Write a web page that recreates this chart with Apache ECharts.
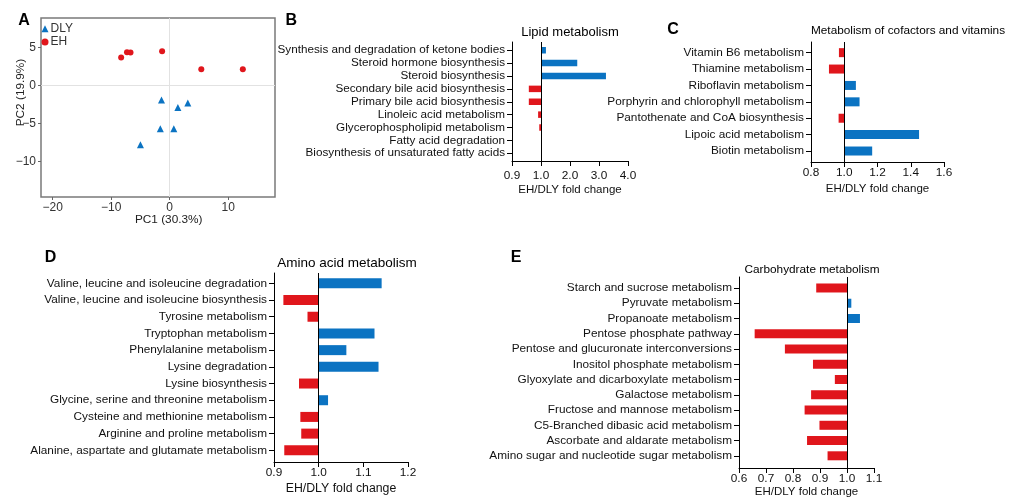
<!DOCTYPE html>
<html><head><meta charset="utf-8">
<script src="https://cdn.jsdelivr.net/npm/echarts@6/dist/echarts.min.js"></script>
<style>html,body{margin:0;padding:0;background:#fff}#c{width:1016px;height:500px}</style>
</head><body><div id="c"></div>
<script>
// ---- Panel A: PCA scores ----
const dlyPC1 = [-1.4, 1.4, 3.1, -1.6, 0.7, -5.0];
const dlyPC2 = [-1.9, -2.9, -2.3, -5.7, -5.7, -7.8];
const ehPC1 = [-8.3, -7.3, -6.7, -1.3, 5.4, 12.5];
const ehPC2 = [3.7, 4.4, 4.35, 4.5, 2.15, 2.15];
const pcaXTicks = [-20, -10, 0, 10];
const pcaYTicks = [-10, -5, 0, 5];

// ---- Panel B: Lipid metabolism ----
const lipidCats = ['Synthesis and degradation of ketone bodies', 'Steroid hormone biosynthesis', 'Steroid biosynthesis',
  'Secondary bile acid biosynthesis', 'Primary bile acid biosynthesis', 'Linoleic acid metabolism',
  'Glycerophospholipid metabolism', 'Fatty acid degradation', 'Biosynthesis of unsaturated fatty acids'];
const lipidFC = [1.17, 2.25, 3.24, 0.958, 0.958, 0.99, 0.994, 1.03, 1.0];
const lipidTicks = ['0.9', '1.0', '2.0', '3.0', '4.0'];

// ---- Panel C: Metabolism of cofactors and vitamins ----
const cofCats = ['Vitamin B6 metabolism', 'Thiamine metabolism', 'Riboflavin metabolism',
  'Porphyrin and chlorophyll metabolism', 'Pantothenate and CoA biosynthesis', 'Lipoic acid metabolism', 'Biotin metabolism'];
const cofFC = [0.968, 0.908, 1.07, 1.092, 0.966, 1.45, 1.168];
const cofTicks = ['0.8', '1.0', '1.2', '1.4', '1.6'];

// ---- Panel D: Amino acid metabolism ----
const aminoCats = ['Valine, leucine and isoleucine degradation', 'Valine, leucine and isoleucine biosynthesis',
  'Tyrosine metabolism', 'Tryptophan metabolism', 'Phenylalanine metabolism', 'Lysine degradation',
  'Lysine biosynthesis', 'Glycine, serine and threonine metabolism', 'Cysteine and methionine metabolism',
  'Arginine and proline metabolism', 'Alanine, aspartate and glutamate metabolism'];
const aminoFC = [1.141, 0.921, 0.975, 1.125, 1.062, 1.134, 0.956, 1.021, 0.959, 0.961, 0.923];
const aminoTicks = ['0.9', '1.0', '1.1', '1.2'];

// ---- Panel E: Carbohydrate metabolism ----
const carbCats = ['Starch and sucrose metabolism', 'Pyruvate metabolism', 'Propanoate metabolism',
  'Pentose phosphate pathway', 'Pentose and glucuronate interconversions', 'Inositol phosphate metabolism',
  'Glyoxylate and dicarboxylate metabolism', 'Galactose metabolism', 'Fructose and mannose metabolism',
  'C5-Branched dibasic acid metabolism', 'Ascorbate and aldarate metabolism', 'Amino sugar and nucleotide sugar metabolism'];
const carbFC = [0.886, 1.016, 1.048, 0.658, 0.770, 0.874, 0.955, 0.867, 0.843, 0.898, 0.852, 0.928];
const carbTicks = ['0.6', '0.7', '0.8', '0.9', '1.0', '1.1'];

const RED = '#E0161C', BLUE = '#0B73C2';
const FONT = "'Liberation Sans', Arial, sans-serif";
const r6 = x => Math.round(x * 1e6) / 1e6;
// axis scales (the lipid panel uses a broken scale: 0.9-1.0 then 1-4)
const lipidPos = v => r6(v >= 1 ? v - 1 : (v - 1) * 10);
const linPos = s => v => r6((v - 1) * s);

const panels = [
  {cats: lipidCats, fc: lipidFC, ticks: lipidTicks, pos: lipidPos, title: 'Lipid metabolism', titleFont: 13, titleX: 570, titleY: 32,
   grid: {left: 512, top: 42, width: 116, height: 119}, ymin: -0.64, ymax: 8.6, barH: 6.5, catFont: 11.7, tickMargin: 9, nameGap: 23, nameFont: 11.5},
  {cats: cofCats, fc: cofFC, ticks: cofTicks, pos: linPos(5), title: 'Metabolism of cofactors and vitamins', titleFont: 11.8, titleX: 908, titleY: 31,
   grid: {left: 811, top: 42, width: 133, height: 120}, ymin: -0.65, ymax: 6.67, barH: 9, catFont: 11.8, tickMargin: 5, nameGap: 21, nameFont: 11.5},
  {cats: aminoCats, fc: aminoFC, ticks: aminoTicks, pos: linPos(10), title: 'Amino acid metabolism', titleFont: 13.5, titleX: 347, titleY: 263,
   grid: {left: 274, top: 273, width: 134, height: 189}, ymin: -0.62, ymax: 10.7, barH: 10, catFont: 11.8, tickMargin: 5, nameGap: 21, nameFont: 12.3},
  {cats: carbCats, fc: carbFC, ticks: carbTicks, pos: linPos(10), title: 'Carbohydrate metabolism', titleFont: 11.8, titleX: 812, titleY: 270,
   grid: {left: 739, top: 277, width: 135, height: 191}, ymin: -0.72, ymax: 11.8, barH: 9, catFont: 11.8, tickMargin: 5, nameGap: 18, nameFont: 11.5}
];

const grids = [{left: 41, top: 18, width: 234, height: 179, show: true, borderColor: '#7a7a7a', borderWidth: 1.5, backgroundColor: 'transparent'}];
const xAxes = [{
  type: 'value', gridIndex: 0, min: -22, max: 18, position: 'bottom',
  axisLine: {show: false, onZero: false}, splitLine: {show: false},
  axisTick: {show: true, customValues: pcaXTicks, length: 3, lineStyle: {color: '#666'}},
  axisLabel: {customValues: pcaXTicks, formatter: v => String(v).replace('-', '\u2212'), fontSize: 12, color: '#333', margin: 5, fontFamily: FONT}
}];
const yAxes = [{
  type: 'value', gridIndex: 0, min: -14.7, max: 8.9, position: 'left',
  axisLine: {show: false, onZero: false}, splitLine: {show: false},
  axisTick: {show: true, customValues: pcaYTicks, length: 3, lineStyle: {color: '#666'}},
  axisLabel: {customValues: pcaYTicks, formatter: v => String(v).replace('-', '\u2212'), fontSize: 12, color: '#333', margin: 5, fontFamily: FONT}
}];
const series = [
  {type: 'scatter', name: 'DLY', xAxisIndex: 0, yAxisIndex: 0, symbol: 'triangle', symbolSize: 7,
   itemStyle: {color: BLUE, opacity: 1}, data: dlyPC1.map((x, i) => [x, dlyPC2[i]]), z: 3},
  {type: 'scatter', name: 'EH', xAxisIndex: 0, yAxisIndex: 0, symbol: 'circle', symbolSize: 6,
   itemStyle: {color: RED, opacity: 1}, data: ehPC1.map((x, i) => [x, ehPC2[i]]), z: 3,
   markLine: {silent: true, symbol: ['none', 'none'], label: {show: false}, z: 1,
     lineStyle: {color: '#e2e2e2', width: 1, type: 'solid'}, emphasis: {disabled: true},
     data: [{xAxis: 0}, {yAxis: 0}]}}
];
const graphics = [
  {type: 'text', x: 168.7, y: 220, style: {text: 'PC1 (30.3%)', fontSize: 11.8, fontFamily: FONT, fill: '#222', align: 'center', verticalAlign: 'middle'}},
  {type: 'text', x: 20.5, y: 92.5, rotation: Math.PI / 2, style: {text: 'PC2 (19.9%)', fontSize: 11.8, fontFamily: FONT, fill: '#222', align: 'center', verticalAlign: 'middle'}}
];
const letters = [['A', 24, 21], ['B', 291.3, 21], ['C', 673, 30], ['D', 50.5, 257.7], ['E', 516.2, 257.3]];
letters.forEach(([t, x, y]) => graphics.push({type: 'text', x, y, style: {text: t, fontSize: 16, fontWeight: 'bold', fontFamily: FONT, fill: '#000', align: 'center', verticalAlign: 'middle'}}));

panels.forEach((p, k) => {
  const gi = k + 1;
  const tickPos = p.ticks.map(t => p.pos(parseFloat(t)));
  const idx = p.cats.map((c, i) => i);
  grids.push(Object.assign({}, p.grid));
  xAxes.push({
    type: 'value', gridIndex: gi, min: tickPos[0], max: tickPos[tickPos.length - 1], position: 'bottom',
    axisLine: {show: true, onZero: false, lineStyle: {color: '#000', width: 1}},
    splitLine: {show: false},
    axisTick: {show: true, customValues: tickPos, length: 5, lineStyle: {color: '#000'}},
    axisLabel: {customValues: tickPos, fontSize: 11.8, color: '#111', margin: p.tickMargin, fontFamily: FONT,
      formatter: v => { const j = tickPos.findIndex(t => Math.abs(t - v) < 1e-6); return j >= 0 ? p.ticks[j] : ''; }},
    name: 'EH/DLY fold change', nameLocation: 'middle', nameGap: p.nameGap,
    nameTextStyle: {fontSize: p.nameFont, color: '#111', fontFamily: FONT}
  });
  yAxes.push({
    type: 'value', gridIndex: gi, inverse: true, min: p.ymin, max: p.ymax, position: 'left',
    axisLine: {show: true, onZero: false, lineStyle: {color: '#000', width: 1}},
    splitLine: {show: false},
    axisTick: {show: true, customValues: idx, length: 5, lineStyle: {color: '#000'}},
    axisLabel: {customValues: idx, fontSize: p.catFont, color: '#111', margin: 7, fontFamily: FONT,
      formatter: v => p.cats[Math.round(v)] || ''}
  });
  const h = p.barH;
  series.push({
    type: 'custom', xAxisIndex: gi, yAxisIndex: gi,
    encode: {x: 0, y: 1},
    data: p.fc.map((v, i) => [p.pos(v), i]),
    renderItem: (params, api) => {
      const val = api.value(0), row = api.value(1);
      const a = api.coord([0, row]), b = api.coord([val, row]);
      return {type: 'rect', shape: {x: Math.min(a[0], b[0]), y: a[1] - h / 2, width: Math.abs(b[0] - a[0]), height: h},
        style: {fill: val < 0 ? RED : BLUE}};
    },
    markLine: {silent: true, symbol: ['none', 'none'], label: {show: false}, emphasis: {disabled: true},
      lineStyle: {color: '#000', width: 1, type: 'solid'}, data: [{xAxis: 0}]},
    z: 2
  });
  graphics.push({type: 'text', x: p.titleX, y: p.titleY, style: {text: p.title, fontSize: p.titleFont, fontFamily: FONT, fill: '#000', align: 'center', verticalAlign: 'middle'}});
});

const chart = echarts.init(document.getElementById('c'), null, {renderer: 'canvas', width: 1016, height: 500});
chart.setOption({
  animation: false,
  backgroundColor: '#fff',
  textStyle: {fontFamily: FONT},
  legend: {orient: 'vertical', left: 41.5, top: 22.7, padding: 0, itemWidth: 7, itemHeight: 7, itemGap: 1.3,
    textStyle: {fontSize: 12, color: '#333', padding: [0, 0, 0, -3], fontFamily: FONT},
    data: [{name: 'DLY', icon: 'triangle'}, {name: 'EH', icon: 'circle'}]},
  grid: grids, xAxis: xAxes, yAxis: yAxes, series: series, graphic: graphics
});
</script></body></html>
